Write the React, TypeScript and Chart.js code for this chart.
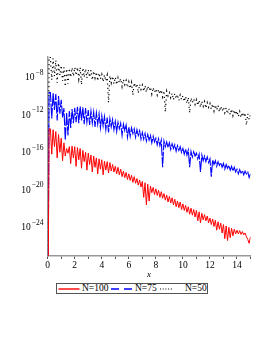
import React, { useEffect, useRef } from "react";
import { Chart, registerables } from "chart.js";

Chart.register(...registerables);

// x grid: 0 .. 15 in steps of 0.1
const X_START = 0;
const X_STEP = 0.1;

// log10 of the plotted values (first entry: value 0 at x = 0, drawn as a drop to the axis)
const redExp = [
  -40, -13.5, -13.5, -16.2, -13.6, -15.4, -13.8, -16.6, -14.1, -16.0,
  -14.5, -16.9, -15.0, -16.4, -15.6, -16.1, -15.4, -17.2, -15.35, -16.6,
  -15.4, -17.5, -15.5, -16.8, -15.6, -17.7, -15.8, -17.0, -16.0, -17.9,
  -16.1, -17.3, -16.3, -18.1, -16.4, -17.6, -16.6, -18.3, -16.7, -17.8,
  -16.8, -18.4, -16.95, -17.9, -17.0, -18.2, -17.1, -18.0, -17.3, -18.1,
  -17.5, -18.3, -17.6, -18.4, -17.8, -18.6, -18.0, -18.7, -18.15, -18.9,
  -18.3, -19.0, -18.45, -19.2, -18.6, -19.3, -18.8, -19.5, -18.95, -19.7,
  -19.1, -20.8, -19.25, -21.6, -19.4, -21.2, -19.6, -20.3, -19.75, -20.5,
  -19.9, -20.6, -20.05, -20.8, -20.2, -20.9, -20.4, -21.1, -20.55, -21.3,
  -20.7, -21.4, -20.85, -21.6, -21.0, -21.8, -21.2, -21.9, -21.3, -22.1,
  -21.5, -22.2, -21.65, -22.4, -21.8, -22.6, -21.95, -22.7, -22.1, -22.9,
  -22.2, -23.3, -22.35, -23.5, -22.5, -23.2, -22.65, -23.3, -22.8, -23.5,
  -23.0, -23.7, -23.1, -23.9, -23.25, -24.3, -23.4, -24.2, -23.55, -24.6,
  -23.7, -25.2, -23.85, -25.4, -24.0, -25.1, -24.1, -24.9, -24.2, -24.7,
  -24.3, -24.7, -24.35, -24.75, -24.45, -24.8, -24.6, -25.0, -25.3, -25.7,
  -25.0,
];

const blueExp = [
  -40, -9.65, -9.65, -12.4, -9.7, -11.5, -9.8, -12.6, -10.0, -11.9,
  -10.4, -12.3, -11.3, -14.7, -11.8, -14.2, -11.6, -13.4, -11.4, -12.9,
  -11.25, -12.8, -11.15, -12.9, -11.1, -12.6, -11.2, -13.0, -11.3, -12.8,
  -11.5, -13.1, -11.6, -12.9, -11.7, -13.3, -11.8, -13.0, -11.9, -13.4,
  -12.1, -13.2, -12.2, -13.6, -12.3, -13.9, -12.4, -13.3, -12.5, -13.6,
  -12.7, -13.8, -12.8, -13.5, -12.9, -14.2, -13.0, -13.7, -13.1, -14.4,
  -13.3, -14.3, -13.4, -14.0, -13.5, -14.4, -13.6, -14.2, -13.7, -14.6,
  -13.9, -14.6, -14.0, -14.8, -14.1, -14.7, -14.2, -15.0, -14.3, -14.9,
  -14.5, -15.2, -14.55, -15.3, -14.7, -17.6, -14.8, -15.4, -14.9, -15.5,
  -15.0, -15.7, -15.1, -15.6, -15.2, -15.9, -15.3, -15.8, -15.4, -16.0,
  -15.6, -16.2, -15.65, -16.3, -15.75, -17.6, -15.9, -16.5, -15.95, -16.4,
  -16.1, -16.7, -16.2, -18.1, -16.3, -16.9, -16.4, -17.0, -16.5, -17.1,
  -16.7, -18.6, -16.8, -17.3, -16.9, -17.5, -17.0, -17.4, -17.1, -17.6,
  -17.2, -17.8, -17.3, -17.7, -17.4, -17.9, -17.5, -18.0, -17.6, -18.1,
  -17.8, -18.3, -17.85, -18.2, -17.95, -18.4, -18.0, -18.3, -18.1, -18.7,
  -18.3,
];

const blackExp = [
  -40, -5.85, -5.9, -8.3, -6.0, -7.9, -6.2, -8.6, -6.5, -7.8,
  -6.75, -8.4, -6.95, -9.0, -7.1, -8.7, -7.05, -8.0, -7.0, -7.9,
  -6.95, -7.8, -6.95, -8.2, -6.95, -8.8, -7.0, -8.0, -7.1, -8.1,
  -7.2, -8.0, -7.25, -8.3, -7.35, -8.1, -7.45, -8.4, -7.55, -8.2,
  -7.7, -8.5, -7.75, -8.4, -7.8, -10.7, -7.85, -8.6, -7.9, -8.7,
  -8.0, -8.8, -8.05, -8.6, -8.15, -9.0, -8.25, -8.8, -8.35, -9.1,
  -8.5, -9.2, -8.55, -9.9, -8.6, -9.1, -8.7, -9.7, -8.75, -9.3,
  -8.85, -9.5, -8.9, -9.6, -8.95, -9.4, -9.05, -9.8, -9.1, -9.6,
  -9.25, -9.9, -9.3, -9.8, -9.35, -10.1, -9.45, -11.7, -9.5, -10.0,
  -9.65, -10.2, -9.7, -10.4, -9.75, -10.3, -9.85, -10.5, -9.9, -10.4,
  -10.0, -10.6, -10.05, -10.8, -10.15, -11.8, -10.2, -10.7, -10.3, -10.9,
  -10.4, -11.0, -10.45, -11.2, -10.55, -11.1, -10.6, -11.3, -10.7, -11.2,
  -10.8, -11.4, -10.85, -11.6, -10.95, -11.5, -11.0, -11.7, -11.1, -11.6,
  -11.2, -11.8, -11.25, -11.9, -11.35, -12.0, -11.4, -12.1, -11.5, -12.0,
  -11.6, -12.2, -11.65, -12.3, -11.75, -12.2, -11.8, -13.1, -11.9, -12.5,
  -12.0,
];

const seriesLabels = ["N=100", "N=75", "N=50"];
const seriesColors = ["#ff0000", "#0000ff", "#000000"];
const seriesExps = [redExp, blueExp, blackExp];

const xTickLabelsEvery = 2;
const yLabelExponents = [-8, -12, -16, -20, -24];
const yMinExp = -27.05;
const yMaxExp = -5.85;
const xMin = 0;
const xMax = 15;

const SERIF = '"Liberation Serif", "Times New Roman", serif';

const toPoints = (exps: number[]) =>
  exps.map((e, i) => ({ x: +(X_START + i * X_STEP).toFixed(2), y: Math.pow(10, e) }));

const yLabelPlugin = {
  id: "yPowerLabels",
  afterDraw(chart: any) {
    const ctx = chart.ctx;
    const ys = chart.scales.y;
    ctx.save();
    ctx.fillStyle = "#000";
    ctx.textBaseline = "middle";
    ctx.textAlign = "right";
    for (const e of yLabelExponents) {
      const py = ys.getPixelForValue(Math.pow(10, e));
      const sup = "\u2212" + String(Math.abs(e));
      ctx.font = `7.5px ${SERIF}`;
      const rightX = ys.right - 4.2;
      const supW = ctx.measureText(sup).width;
      ctx.fillText(sup, rightX, py - 4.5);
      ctx.font = `9.5px ${SERIF}`;
      ctx.fillText("10", rightX - supW - 1, py + 0.5);
    }
    ctx.restore();
  },
};

function Legend() {
  const box: React.CSSProperties = {
    position: "absolute",
    left: 56,
    top: 283,
    width: 150,
    height: 9,
    border: "1px solid #555",
    background: "#fff",
  };
  const txt = (left: number, s: string): React.ReactElement => (
    <span
      style={{
        position: "absolute",
        left,
        top: -1,
        fontFamily: SERIF,
        fontSize: 9.5,
        lineHeight: "11px",
        color: "#000",
        whiteSpace: "nowrap",
      }}
    >
      {s}
    </span>
  );
  return (
    <div style={box}>
      <svg
        width={150}
        height={9}
        style={{ position: "absolute", left: 0, top: 0 }}
      >
        <line x1={1.5} y1={5} x2={22.5} y2={5} stroke={seriesColors[0]} strokeWidth={1.4} />
        <line x1={54} y1={5} x2={76} y2={5} stroke={seriesColors[1]} strokeWidth={1.4} strokeDasharray="8 5" />
        <line x1={103} y1={5} x2={115} y2={5} stroke={seriesColors[2]} strokeWidth={1.2} strokeDasharray="1 1.7" />
      </svg>
      {txt(25, seriesLabels[0])}
      {txt(78, seriesLabels[1])}
      {txt(128, seriesLabels[2])}
    </div>
  );
}

export default function App() {
  const ref = useRef<HTMLCanvasElement | null>(null);

  useEffect(() => {
    if (!ref.current) return;
    const dashes = [[], [12, 1.5], [1.2, 3.2]];
    const widths = [1, 1.1, 1.2];
    const chart = new Chart(ref.current, {
      type: "line",
      data: {
        datasets: seriesExps.map((exps, k) => ({
          label: seriesLabels[k],
          data: toPoints(exps),
          borderColor: seriesColors[k],
          backgroundColor: seriesColors[k],
          borderWidth: widths[k],
          borderDash: dashes[k],
          pointRadius: 0,
          tension: 0,
          fill: false,
        })),
      },
      options: {
        animation: false,
        responsive: false,
        devicePixelRatio: 1,
        layout: { padding: { left: 0, right: 22.5, top: 57, bottom: 73 } },
        plugins: {
          legend: { display: false },
          tooltip: { enabled: false },
        },
        scales: {
          x: {
            type: "linear",
            min: xMin,
            max: xMax,
            afterFit: (s: any) => {
              s.height = 24;
            },
            ticks: {
              stepSize: 1,
              autoSkip: false,
              maxRotation: 0,
              padding: 1,
              color: "#000",
              font: { family: SERIF, size: 9.5 },
              callback: (v: any) => (Number(v) % xTickLabelsEvery === 0 ? String(v) : ""),
            },
            grid: {
              display: true,
              drawOnChartArea: false,
              drawTicks: true,
              tickLength: 3,
              color: "#555",
              lineWidth: 1,
            },
            border: { display: true, color: "#999", width: 1.5 },
            title: {
              display: true,
              text: "x",
              color: "#000",
              padding: 0,
              font: { family: SERIF, size: 9, style: "italic" },
            },
          },
          y: {
            type: "logarithmic",
            min: Math.pow(10, yMinExp),
            max: Math.pow(10, yMaxExp),
            afterFit: (s: any) => {
              s.width = 47.7;
            },
            ticks: { display: false },
            grid: { display: false },
            border: { display: true, color: "#999", width: 1.5 },
          },
        },
      },
      plugins: [yLabelPlugin],
    } as any);
    return () => chart.destroy();
  }, []);

  return (
    <div
      style={{
        position: "fixed",
        left: 0,
        top: 0,
        width: 273,
        height: 353,
        background: "#fff",
      }}
    >
      <canvas ref={ref} width={273} height={353} style={{ display: "block" }} />
      <Legend />
    </div>
  );
}
